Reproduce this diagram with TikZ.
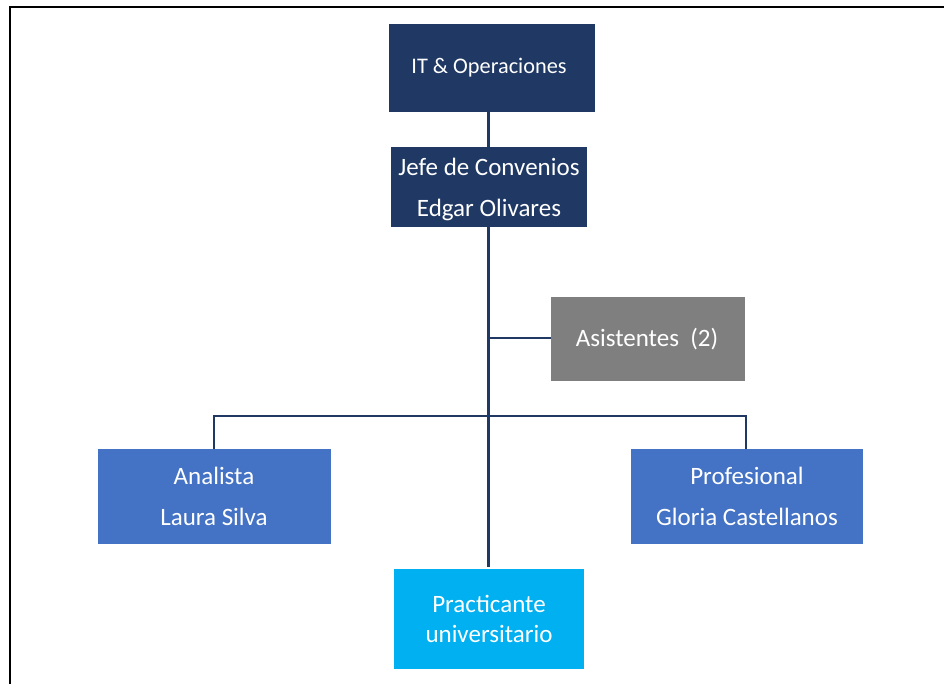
\documentclass[tikz,border=0pt]{standalone}
\usepackage{fontspec}
\setmainfont{Carlito}
\definecolor{navy}{HTML}{1F3864}
\definecolor{midblue}{HTML}{4472C4}
\definecolor{cyanb}{HTML}{00B0F0}
\definecolor{grayb}{HTML}{7F7F7F}
\begin{document}
\begin{tikzpicture}[x=1pt,y=-1pt,
  box/.style={draw=none, text=white, align=center, inner sep=0pt, font=\fontsize{25}{41}\selectfont},
  conn/.style={draw=navy, line width=3pt},
  hconn/.style={draw=navy, line width=2pt}]
\useasboundingbox (0,0) rectangle (944,684);
\fill[white] (0,0) rectangle (944,684);
\draw[line width=2pt, black] (10,684) -- (10,7) -- (944,7);
% boxes
\fill[navy] (389,24) rectangle (595,112);
\node[box, font=\fontsize{22.3}{26}\selectfont] (it) at (489,68) {IT \& Operaciones};
\fill[navy] (391,147) rectangle (587,227);
\node[box] (jefe) at (489,189) {Jefe de Convenios\\Edgar Olivares};
\fill[grayb] (551,297) rectangle (745,381);
\node[box] (asis) at (647,339) {Asistentes~~(2)};
\fill[midblue] (98,449) rectangle (331,544);
\node[box] (ana) at (214,496) {Analista\\Laura Silva};
\fill[midblue] (631,449) rectangle (863,544);
\node[box] (prof) at (747,496) {Profesional\\Gloria Castellanos};
\fill[cyanb] (394,569) rectangle (584,669);
\node[box, font=\fontsize{25}{30}\selectfont] (prac) at (489,619) {Practicante\\universitario};
% coordinates
\coordinate (itb) at (488,112);
\coordinate (jt) at (488,147);
\coordinate (jb) at (488,227);
\coordinate (ast) at (488,338);
\coordinate (asl) at (551,338);
\coordinate (hb) at (488,416);
\coordinate (hl) at (214,416);
\coordinate (hr) at (746,416);
\coordinate (at) at (214,449);
\coordinate (pt) at (746,449);
\coordinate (pr) at (488,567);
\draw[conn] (itb) -- (jt);
\draw[conn] (jb) -- (pr);
\draw[hconn] (ast) -- (asl);
\draw[hconn] (at) -- (hl) -- (hr) -- (pt);
\end{tikzpicture}
\end{document}
